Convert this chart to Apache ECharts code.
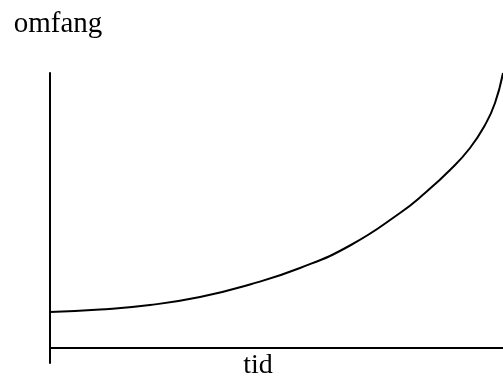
<!DOCTYPE html>
<html>
<head>
<meta charset="utf-8">
<script src="https://cdn.jsdelivr.net/npm/echarts@6/dist/echarts.min.js"></script>
<style>
html,body{margin:0;padding:0;background:#fff;}
#chart{width:503px;height:378px;}
</style>
</head>
<body>
<div id="chart"></div>
<script>
// Conceptual growth curve: "omfang" (extent) vs "tid" (time), arbitrary units
const tid    = [0,   5,    10,  15,  20,   25,  30,    35,   37.5, 40,   42,   43.5, 44.5, 45.3];
const omfang = [3.6, 3.85, 4.3, 5.1, 6.35, 8.0, 10.25, 13.5, 15.5, 17.8, 20.0, 22.3, 24.5, 27.5];
const xAxisName = 'tid';
const yAxisName = 'omfang';

const data = tid.map((t, i) => [t, omfang[i]]);
const font = '"Liberation Serif", "DejaVu Serif", serif';

const chart = echarts.init(document.getElementById('chart'), null, {renderer: 'canvas'});
chart.setOption({
  backgroundColor: '#fff',
  animation: false,
  grid: {left: 50, right: 0, top: 73, bottom: 15, containLabel: false, outerBoundsMode: 'none'},
  xAxis: {
    type: 'value', min: 0, max: 45.3,
    axisLine: {show: true, onZero: true, lineStyle: {color: '#000', width: 2}},
    axisTick: {show: false}, axisLabel: {show: false}, splitLine: {show: false}
  },
  yAxis: {
    type: 'value', min: -1.5, max: 27.5,
    axisLine: {show: true, onZero: false, lineStyle: {color: '#000', width: 2}},
    axisTick: {show: false}, axisLabel: {show: false}, splitLine: {show: false},
    name: yAxisName, nameLocation: 'end', nameGap: 49,
    nameTextStyle: {fontFamily: font, fontSize: 29, color: '#000', align: 'center', verticalAlign: 'middle', padding: [0, 0, 0, 16]}
  },
  graphic: [{
    type: 'text', x: 258, y: 366,
    style: {text: xAxisName, font: '28px ' + font, fill: '#000', align: 'center', verticalAlign: 'middle'}
  }],
  series: [{
    type: 'line', data: data, smooth: 0.5, symbol: 'none',
    lineStyle: {color: '#000', width: 2}
  }]
});
</script>
</body>
</html>
